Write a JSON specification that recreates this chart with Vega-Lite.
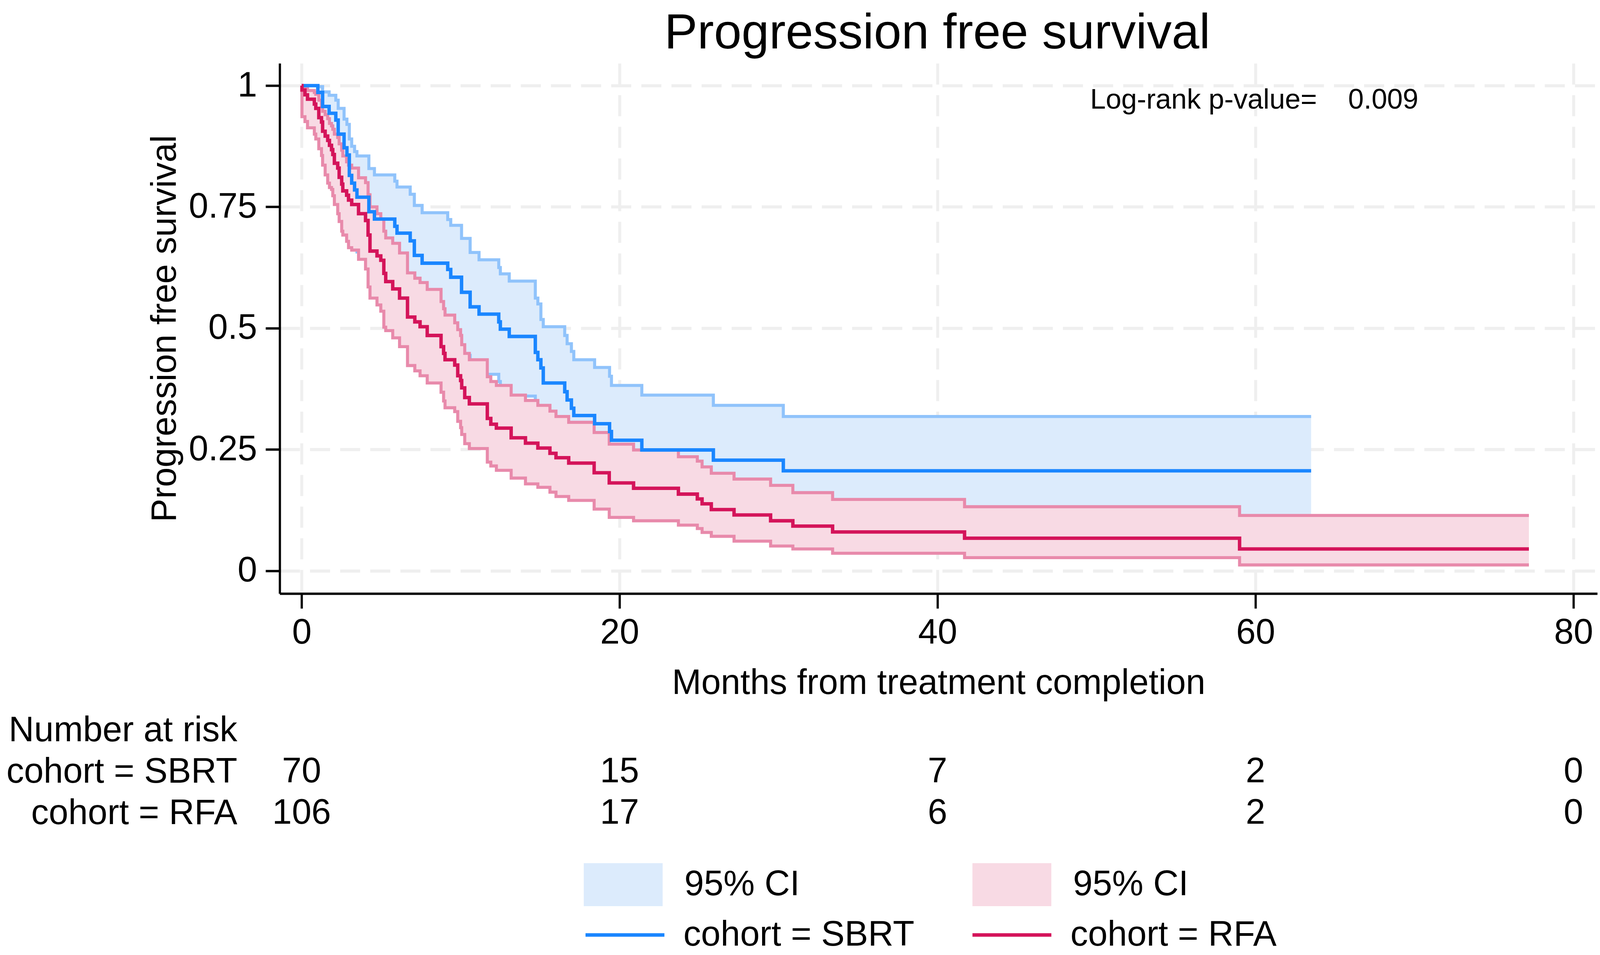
{
  "$schema": "https://vega.github.io/schema/vega-lite/v6.json",
  "background": "white",
  "padding": {"left": 15, "top": 22, "right": 10, "bottom": 0},
  "title": {"text": "Progression free survival", "font": "Liberation Sans", "fontSize": 127, "fontWeight": "normal", "color": "black", "anchor": "middle", "offset": 11, "dx": 347},
  "config": {
    "font": "Liberation Sans",
    "view": {"stroke": null},
    "axis": {
      "labelFont": "Liberation Sans", "titleFont": "Liberation Sans",
      "labelColor": "black", "titleColor": "black",
      "labelFontSize": 90, "titleFontSize": 90, "titleFontWeight": "normal",
      "labelLimit": 2000, "titleLimit": 4000,
      "domainColor": "black", "tickColor": "black", "gridColor": "#efefef"
    },
    "legend": {"labelFont": "Liberation Sans", "labelFontSize": 90, "labelColor": "black", "labelLimit": 2000, "padding": 0}
  },
  "datasets": {
    "km": [
      {"cohort": "SBRT", "band": "CI SBRT", "t": 0, "s": 1, "lo": 1, "hi": 1},
      {"cohort": "SBRT", "band": "CI SBRT", "t": 1.02, "s": 0.986, "lo": 0.903, "hi": 0.998},
      {"cohort": "SBRT", "band": "CI SBRT", "t": 1.32, "s": 0.957, "lo": 0.875, "hi": 0.987},
      {"cohort": "SBRT", "band": "CI SBRT", "t": 1.73, "s": 0.943, "lo": 0.857, "hi": 0.98},
      {"cohort": "SBRT", "band": "CI SBRT", "t": 2.15, "s": 0.929, "lo": 0.84, "hi": 0.97},
      {"cohort": "SBRT", "band": "CI SBRT", "t": 2.3, "s": 0.9, "lo": 0.805, "hi": 0.953},
      {"cohort": "SBRT", "band": "CI SBRT", "t": 2.67, "s": 0.872, "lo": 0.772, "hi": 0.931},
      {"cohort": "SBRT", "band": "CI SBRT", "t": 2.85, "s": 0.857, "lo": 0.755, "hi": 0.92},
      {"cohort": "SBRT", "band": "CI SBRT", "t": 3.0, "s": 0.815, "lo": 0.708, "hi": 0.89},
      {"cohort": "SBRT", "band": "CI SBRT", "t": 3.15, "s": 0.799, "lo": 0.69, "hi": 0.875},
      {"cohort": "SBRT", "band": "CI SBRT", "t": 3.33, "s": 0.785, "lo": 0.673, "hi": 0.864},
      {"cohort": "SBRT", "band": "CI SBRT", "t": 3.48, "s": 0.77, "lo": 0.657, "hi": 0.855},
      {"cohort": "SBRT", "band": "CI SBRT", "t": 4.23, "s": 0.74, "lo": 0.624, "hi": 0.829},
      {"cohort": "SBRT", "band": "CI SBRT", "t": 4.58, "s": 0.725, "lo": 0.607, "hi": 0.816},
      {"cohort": "SBRT", "band": "CI SBRT", "t": 5.86, "s": 0.71, "lo": 0.59, "hi": 0.803},
      {"cohort": "SBRT", "band": "CI SBRT", "t": 6.0, "s": 0.696, "lo": 0.574, "hi": 0.791},
      {"cohort": "SBRT", "band": "CI SBRT", "t": 6.83, "s": 0.68, "lo": 0.557, "hi": 0.776},
      {"cohort": "SBRT", "band": "CI SBRT", "t": 7.09, "s": 0.65, "lo": 0.523, "hi": 0.753},
      {"cohort": "SBRT", "band": "CI SBRT", "t": 7.58, "s": 0.634, "lo": 0.507, "hi": 0.738},
      {"cohort": "SBRT", "band": "CI SBRT", "t": 9.19, "s": 0.621, "lo": 0.493, "hi": 0.724},
      {"cohort": "SBRT", "band": "CI SBRT", "t": 9.38, "s": 0.605, "lo": 0.477, "hi": 0.712},
      {"cohort": "SBRT", "band": "CI SBRT", "t": 10.06, "s": 0.574, "lo": 0.444, "hi": 0.685},
      {"cohort": "SBRT", "band": "CI SBRT", "t": 10.6, "s": 0.544, "lo": 0.413, "hi": 0.656},
      {"cohort": "SBRT", "band": "CI SBRT", "t": 11.16, "s": 0.529, "lo": 0.405, "hi": 0.641},
      {"cohort": "SBRT", "band": "CI SBRT", "t": 12.4, "s": 0.513, "lo": 0.39, "hi": 0.625},
      {"cohort": "SBRT", "band": "CI SBRT", "t": 12.5, "s": 0.498, "lo": 0.376, "hi": 0.612},
      {"cohort": "SBRT", "band": "CI SBRT", "t": 13.06, "s": 0.483, "lo": 0.36, "hi": 0.597},
      {"cohort": "SBRT", "band": "CI SBRT", "t": 14.7, "s": 0.45, "lo": 0.327, "hi": 0.562},
      {"cohort": "SBRT", "band": "CI SBRT", "t": 14.86, "s": 0.435, "lo": 0.312, "hi": 0.55},
      {"cohort": "SBRT", "band": "CI SBRT", "t": 15.05, "s": 0.418, "lo": 0.296, "hi": 0.518},
      {"cohort": "SBRT", "band": "CI SBRT", "t": 15.2, "s": 0.387, "lo": 0.264, "hi": 0.503},
      {"cohort": "SBRT", "band": "CI SBRT", "t": 16.55, "s": 0.369, "lo": 0.247, "hi": 0.485},
      {"cohort": "SBRT", "band": "CI SBRT", "t": 16.7, "s": 0.352, "lo": 0.23, "hi": 0.468},
      {"cohort": "SBRT", "band": "CI SBRT", "t": 16.97, "s": 0.335, "lo": 0.214, "hi": 0.452},
      {"cohort": "SBRT", "band": "CI SBRT", "t": 17.12, "s": 0.32, "lo": 0.198, "hi": 0.435},
      {"cohort": "SBRT", "band": "CI SBRT", "t": 18.43, "s": 0.303, "lo": 0.183, "hi": 0.419},
      {"cohort": "SBRT", "band": "CI SBRT", "t": 19.37, "s": 0.287, "lo": 0.167, "hi": 0.401},
      {"cohort": "SBRT", "band": "CI SBRT", "t": 19.49, "s": 0.269, "lo": 0.15, "hi": 0.382},
      {"cohort": "SBRT", "band": "CI SBRT", "t": 21.4, "s": 0.249, "lo": 0.134, "hi": 0.362},
      {"cohort": "SBRT", "band": "CI SBRT", "t": 25.9, "s": 0.228, "lo": 0.115, "hi": 0.341},
      {"cohort": "SBRT", "band": "CI SBRT", "t": 30.3, "s": 0.206, "lo": 0.095, "hi": 0.318},
      {"cohort": "SBRT", "band": "CI SBRT", "t": 63.5, "s": 0.206, "lo": 0.095, "hi": 0.318},
      {"cohort": "RFA", "band": "CI RFA", "t": 0, "s": 1, "lo": 1, "hi": 1},
      {"cohort": "RFA", "band": "CI RFA", "t": 0.02, "s": 0.991, "lo": 0.936, "hi": 0.999},
      {"cohort": "RFA", "band": "CI RFA", "t": 0.21, "s": 0.981, "lo": 0.926, "hi": 0.997},
      {"cohort": "RFA", "band": "CI RFA", "t": 0.37, "s": 0.972, "lo": 0.913, "hi": 0.99},
      {"cohort": "RFA", "band": "CI RFA", "t": 0.8, "s": 0.962, "lo": 0.9, "hi": 0.986},
      {"cohort": "RFA", "band": "CI RFA", "t": 0.89, "s": 0.953, "lo": 0.89, "hi": 0.982},
      {"cohort": "RFA", "band": "CI RFA", "t": 1.08, "s": 0.934, "lo": 0.87, "hi": 0.97},
      {"cohort": "RFA", "band": "CI RFA", "t": 1.25, "s": 0.925, "lo": 0.856, "hi": 0.958},
      {"cohort": "RFA", "band": "CI RFA", "t": 1.32, "s": 0.906, "lo": 0.836, "hi": 0.947},
      {"cohort": "RFA", "band": "CI RFA", "t": 1.48, "s": 0.896, "lo": 0.816, "hi": 0.94},
      {"cohort": "RFA", "band": "CI RFA", "t": 1.64, "s": 0.887, "lo": 0.799, "hi": 0.932},
      {"cohort": "RFA", "band": "CI RFA", "t": 1.75, "s": 0.877, "lo": 0.79, "hi": 0.922},
      {"cohort": "RFA", "band": "CI RFA", "t": 1.88, "s": 0.868, "lo": 0.786, "hi": 0.917},
      {"cohort": "RFA", "band": "CI RFA", "t": 1.96, "s": 0.858, "lo": 0.773, "hi": 0.91},
      {"cohort": "RFA", "band": "CI RFA", "t": 2.06, "s": 0.84, "lo": 0.755, "hi": 0.9},
      {"cohort": "RFA", "band": "CI RFA", "t": 2.27, "s": 0.83, "lo": 0.736, "hi": 0.893},
      {"cohort": "RFA", "band": "CI RFA", "t": 2.36, "s": 0.811, "lo": 0.72, "hi": 0.88},
      {"cohort": "RFA", "band": "CI RFA", "t": 2.52, "s": 0.797, "lo": 0.7, "hi": 0.867},
      {"cohort": "RFA", "band": "CI RFA", "t": 2.59, "s": 0.783, "lo": 0.692, "hi": 0.855},
      {"cohort": "RFA", "band": "CI RFA", "t": 2.83, "s": 0.774, "lo": 0.679, "hi": 0.843},
      {"cohort": "RFA", "band": "CI RFA", "t": 2.95, "s": 0.764, "lo": 0.666, "hi": 0.836},
      {"cohort": "RFA", "band": "CI RFA", "t": 3.15, "s": 0.755, "lo": 0.661, "hi": 0.83},
      {"cohort": "RFA", "band": "CI RFA", "t": 3.58, "s": 0.736, "lo": 0.642, "hi": 0.81},
      {"cohort": "RFA", "band": "CI RFA", "t": 4.02, "s": 0.722, "lo": 0.622, "hi": 0.8},
      {"cohort": "RFA", "band": "CI RFA", "t": 4.18, "s": 0.692, "lo": 0.585, "hi": 0.775},
      {"cohort": "RFA", "band": "CI RFA", "t": 4.3, "s": 0.659, "lo": 0.562, "hi": 0.75},
      {"cohort": "RFA", "band": "CI RFA", "t": 4.74, "s": 0.649, "lo": 0.548, "hi": 0.736},
      {"cohort": "RFA", "band": "CI RFA", "t": 4.98, "s": 0.64, "lo": 0.535, "hi": 0.725},
      {"cohort": "RFA", "band": "CI RFA", "t": 5.17, "s": 0.613, "lo": 0.502, "hi": 0.7},
      {"cohort": "RFA", "band": "CI RFA", "t": 5.29, "s": 0.596, "lo": 0.495, "hi": 0.686},
      {"cohort": "RFA", "band": "CI RFA", "t": 5.73, "s": 0.581, "lo": 0.48, "hi": 0.675},
      {"cohort": "RFA", "band": "CI RFA", "t": 6.16, "s": 0.562, "lo": 0.462, "hi": 0.655},
      {"cohort": "RFA", "band": "CI RFA", "t": 6.66, "s": 0.523, "lo": 0.423, "hi": 0.614},
      {"cohort": "RFA", "band": "CI RFA", "t": 7.12, "s": 0.513, "lo": 0.412, "hi": 0.603},
      {"cohort": "RFA", "band": "CI RFA", "t": 7.45, "s": 0.503, "lo": 0.402, "hi": 0.594},
      {"cohort": "RFA", "band": "CI RFA", "t": 7.9, "s": 0.485, "lo": 0.387, "hi": 0.58},
      {"cohort": "RFA", "band": "CI RFA", "t": 8.77, "s": 0.462, "lo": 0.368, "hi": 0.555},
      {"cohort": "RFA", "band": "CI RFA", "t": 8.93, "s": 0.448, "lo": 0.35, "hi": 0.54},
      {"cohort": "RFA", "band": "CI RFA", "t": 9.02, "s": 0.435, "lo": 0.336, "hi": 0.527},
      {"cohort": "RFA", "band": "CI RFA", "t": 9.63, "s": 0.424, "lo": 0.328, "hi": 0.511},
      {"cohort": "RFA", "band": "CI RFA", "t": 9.82, "s": 0.402, "lo": 0.308, "hi": 0.497},
      {"cohort": "RFA", "band": "CI RFA", "t": 10.0, "s": 0.392, "lo": 0.295, "hi": 0.485},
      {"cohort": "RFA", "band": "CI RFA", "t": 10.07, "s": 0.377, "lo": 0.281, "hi": 0.466},
      {"cohort": "RFA", "band": "CI RFA", "t": 10.26, "s": 0.357, "lo": 0.262, "hi": 0.448},
      {"cohort": "RFA", "band": "CI RFA", "t": 10.55, "s": 0.344, "lo": 0.252, "hi": 0.435},
      {"cohort": "RFA", "band": "CI RFA", "t": 11.68, "s": 0.314, "lo": 0.224, "hi": 0.4},
      {"cohort": "RFA", "band": "CI RFA", "t": 11.9, "s": 0.302, "lo": 0.216, "hi": 0.39},
      {"cohort": "RFA", "band": "CI RFA", "t": 12.25, "s": 0.294, "lo": 0.207, "hi": 0.382},
      {"cohort": "RFA", "band": "CI RFA", "t": 13.18, "s": 0.274, "lo": 0.191, "hi": 0.362},
      {"cohort": "RFA", "band": "CI RFA", "t": 14.08, "s": 0.263, "lo": 0.179, "hi": 0.351},
      {"cohort": "RFA", "band": "CI RFA", "t": 14.86, "s": 0.253, "lo": 0.172, "hi": 0.341},
      {"cohort": "RFA", "band": "CI RFA", "t": 15.62, "s": 0.242, "lo": 0.162, "hi": 0.329},
      {"cohort": "RFA", "band": "CI RFA", "t": 16.0, "s": 0.233, "lo": 0.153, "hi": 0.318},
      {"cohort": "RFA", "band": "CI RFA", "t": 16.8, "s": 0.222, "lo": 0.145, "hi": 0.306},
      {"cohort": "RFA", "band": "CI RFA", "t": 18.4, "s": 0.202, "lo": 0.127, "hi": 0.285},
      {"cohort": "RFA", "band": "CI RFA", "t": 19.35, "s": 0.181, "lo": 0.11, "hi": 0.261},
      {"cohort": "RFA", "band": "CI RFA", "t": 20.88, "s": 0.17, "lo": 0.103, "hi": 0.249},
      {"cohort": "RFA", "band": "CI RFA", "t": 23.7, "s": 0.158, "lo": 0.094, "hi": 0.235},
      {"cohort": "RFA", "band": "CI RFA", "t": 24.89, "s": 0.148, "lo": 0.087, "hi": 0.226},
      {"cohort": "RFA", "band": "CI RFA", "t": 25.19, "s": 0.138, "lo": 0.079, "hi": 0.214},
      {"cohort": "RFA", "band": "CI RFA", "t": 25.77, "s": 0.126, "lo": 0.071, "hi": 0.201},
      {"cohort": "RFA", "band": "CI RFA", "t": 27.2, "s": 0.115, "lo": 0.061, "hi": 0.189},
      {"cohort": "RFA", "band": "CI RFA", "t": 29.5, "s": 0.103, "lo": 0.051, "hi": 0.176},
      {"cohort": "RFA", "band": "CI RFA", "t": 30.9, "s": 0.092, "lo": 0.045, "hi": 0.161},
      {"cohort": "RFA", "band": "CI RFA", "t": 33.4, "s": 0.08, "lo": 0.036, "hi": 0.147},
      {"cohort": "RFA", "band": "CI RFA", "t": 41.7, "s": 0.067, "lo": 0.027, "hi": 0.132},
      {"cohort": "RFA", "band": "CI RFA", "t": 59.0, "s": 0.045, "lo": 0.012, "hi": 0.114},
      {"cohort": "RFA", "band": "CI RFA", "t": 77.2, "s": 0.045, "lo": 0.012, "hi": 0.114}
    ],
    "risk": [
      {"row": "cohort = SBRT", "t": 0, "n": 70},
      {"row": "cohort = SBRT", "t": 20, "n": 15},
      {"row": "cohort = SBRT", "t": 40, "n": 7},
      {"row": "cohort = SBRT", "t": 60, "n": 2},
      {"row": "cohort = SBRT", "t": 80, "n": 0},
      {"row": "cohort = RFA", "t": 0, "n": 106},
      {"row": "cohort = RFA", "t": 20, "n": 17},
      {"row": "cohort = RFA", "t": 40, "n": 6},
      {"row": "cohort = RFA", "t": 60, "n": 2},
      {"row": "cohort = RFA", "t": 80, "n": 0}
    ],
    "notes": [
      {"t": 49.6, "s": 0.97, "note": "Log-rank p-value=\u00a0\u00a0\u00a0\u00a00.009"}
    ]
  },
  "bounds": "flush",
  "spacing": 377,
  "resolve": {"scale": {"fill": "shared", "stroke": "shared"}, "legend": {"fill": "shared", "stroke": "shared"}},
  "vconcat": [
    {
      "width": 3373,
      "height": 1357,
      "data": {"name": "km"},
      "encoding": {
        "x": {
          "field": "t", "type": "quantitative",
          "scale": {"domain": [-1.38, 81.5], "nice": false, "zero": false},
          "axis": {
            "values": [0, 20, 40, 60, 80], "title": "Months from treatment completion",
            "labelPadding": 18, "titlePadding": 40,
            "tickSize": 38, "tickWidth": 5.7, "domainWidth": 6,
            "gridWidth": 7.6, "gridDash": [54, 27]
          }
        }
      },
      "layer": [
        {
          "transform": [{"filter": "datum.cohort === 'SBRT'"}],
          "mark": {"type": "area", "interpolate": "step-after", "opacity": 1},
          "encoding": {
            "y": {
              "field": "lo", "type": "quantitative", "title": "Progression free survival",
              "scale": {"domain": [-0.047, 1.046], "nice": false, "zero": false},
              "axis": {
                "values": [0, 0.25, 0.5, 0.75, 1], "labelExpr": "'' + datum.value",
                "labelPadding": 22, "titlePadding": 48,
                "tickSize": 36.2, "tickWidth": 6, "domainWidth": 5.7,
                "gridWidth": 8, "gridDash": [51.4, 25.7]
              }
            },
            "y2": {"field": "hi"},
            "fill": {
              "field": "band", "type": "nominal",
              "scale": {"domain": ["CI SBRT", "CI RFA"], "range": ["#dcebfc", "#f8dae4"]},
              "legend": {
                "orient": "none", "legendX": 824.4, "legendY": 2047,
                "direction": "horizontal", "title": null,
                "symbolType": "M-1.836,-1H1.836V1H-1.836Z", "symbolSize": 12100,
                "symbolStrokeWidth": 0, "symbolOpacity": 1,
                "labelOffset": 101.6, "columnPadding": 442,
                "labelExpr": "'95% CI'"
              }
            }
          }
        },
        {
          "transform": [{"filter": "datum.cohort === 'SBRT'"}],
          "mark": {"type": "line", "interpolate": "step-after", "stroke": "#90c3fb", "strokeWidth": 7.8},
          "encoding": {"y": {"field": "hi", "type": "quantitative", "title": "Progression free survival"}}
        },
        {
          "transform": [{"filter": "datum.cohort === 'SBRT'"}],
          "mark": {"type": "line", "interpolate": "step-after", "stroke": "#90c3fb", "strokeWidth": 7.8},
          "encoding": {"y": {"field": "lo", "type": "quantitative", "title": "Progression free survival"}}
        },
        {
          "transform": [{"filter": "datum.cohort === 'RFA'"}],
          "mark": {"type": "area", "interpolate": "step-after", "opacity": 1},
          "encoding": {
            "y": {"field": "lo", "type": "quantitative", "title": "Progression free survival"},
            "y2": {"field": "hi"},
            "fill": {"field": "band", "type": "nominal"}
          }
        },
        {
          "transform": [{"filter": "datum.cohort === 'RFA'"}],
          "mark": {"type": "line", "interpolate": "step-after", "stroke": "#e88aab", "strokeWidth": 7.8},
          "encoding": {"y": {"field": "hi", "type": "quantitative", "title": "Progression free survival"}}
        },
        {
          "transform": [{"filter": "datum.cohort === 'RFA'"}],
          "mark": {"type": "line", "interpolate": "step-after", "stroke": "#e88aab", "strokeWidth": 7.8},
          "encoding": {"y": {"field": "lo", "type": "quantitative", "title": "Progression free survival"}}
        },
        {
          "transform": [{"filter": "datum.cohort === 'SBRT'"}],
          "mark": {"type": "line", "interpolate": "step-after", "strokeWidth": 8.8},
          "encoding": {
            "y": {"field": "s", "type": "quantitative", "title": "Progression free survival"},
            "stroke": {
              "field": "cohort", "type": "nominal",
              "scale": {"domain": ["SBRT", "RFA"], "range": ["#1a86ff", "#d4145a"]},
              "legend": {
                "orient": "none", "legendX": 824.4, "legendY": 2171,
                "direction": "horizontal", "title": null,
                "symbolType": "M-1.836,0H1.836", "symbolSize": 12100,
                "symbolStrokeWidth": 8.8, "symbolOpacity": 1,
                "labelOffset": 90.2, "columnPadding": 129.6,
                "labelExpr": "'cohort = ' + datum.label"
              }
            }
          }
        },
        {
          "transform": [{"filter": "datum.cohort === 'RFA'"}],
          "mark": {"type": "line", "interpolate": "step-after", "strokeWidth": 8.8},
          "encoding": {
            "y": {"field": "s", "type": "quantitative", "title": "Progression free survival"},
            "stroke": {"field": "cohort", "type": "nominal"}
          }
        },
        {
          "data": {"name": "notes"},
          "mark": {"type": "text", "font": "Liberation Sans", "fontSize": 71.8, "align": "left", "baseline": "middle", "color": "black"},
          "encoding": {
            "y": {"field": "s", "type": "quantitative", "title": "Progression free survival"},
            "text": {"field": "note", "type": "nominal"}
          }
        }
      ]
    },
    {
      "width": 3373,
      "height": 212,
      "data": {"name": "risk"},
      "mark": {"type": "text", "font": "Liberation Sans", "fontSize": 90, "align": "center", "baseline": "alphabetic", "color": "black"},
      "encoding": {
        "x": {"field": "t", "type": "quantitative", "scale": {"domain": [-1.38, 81.5], "nice": false, "zero": false}, "axis": null},
        "y": {
          "field": "row", "type": "nominal",
          "scale": {"type": "point", "domain": ["Number at risk", "cohort = SBRT", "cohort = RFA"], "padding": 0},
          "axis": {"title": null, "ticks": false, "domain": false, "grid": false, "labelPadding": 109, "labelBaseline": "alphabetic", "labelAlign": "right"}
        },
        "text": {"field": "n", "type": "quantitative"}
      }
    }
  ]
}
